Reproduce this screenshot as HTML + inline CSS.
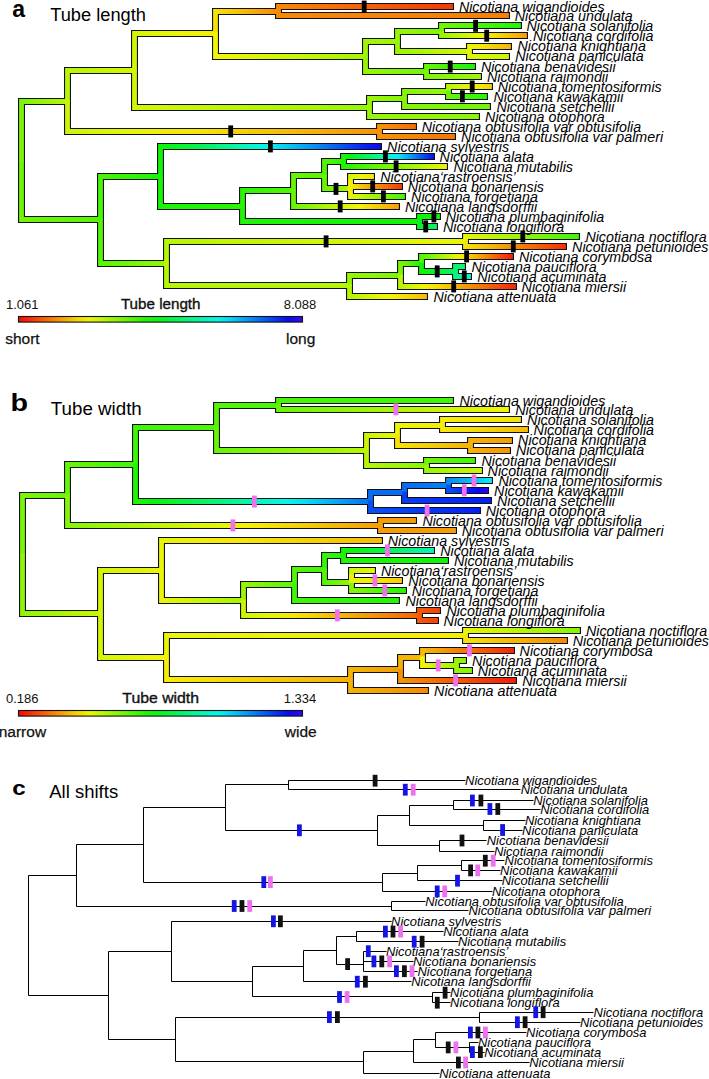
<!DOCTYPE html>
<html><head><meta charset="utf-8"><style>
html,body{margin:0;padding:0;background:#fff;}
svg{display:block;}
</style></head><body>
<svg width="709" height="1079" viewBox="0 0 709 1079">
<rect width="709" height="1079" fill="#fff"/>
<defs><linearGradient id="g1" gradientUnits="userSpaceOnUse" x1="21.5" y1="0" x2="67.5" y2="0"><stop offset="0.000" stop-color="#7bf507"/><stop offset="0.500" stop-color="#99f507"/><stop offset="1.000" stop-color="#b7f507"/></linearGradient><linearGradient id="g2" gradientUnits="userSpaceOnUse" x1="21.5" y1="0" x2="100.5" y2="0"><stop offset="0.000" stop-color="#71f507"/><stop offset="0.500" stop-color="#62f507"/><stop offset="1.000" stop-color="#53f507"/></linearGradient><linearGradient id="g3" gradientUnits="userSpaceOnUse" x1="67.5" y1="0" x2="134.5" y2="0"><stop offset="0.000" stop-color="#b7f507"/><stop offset="1.000" stop-color="#d5f507"/></linearGradient><linearGradient id="g4" gradientUnits="userSpaceOnUse" x1="67.5" y1="0" x2="379.5" y2="0"><stop offset="0.000" stop-color="#cbf507"/><stop offset="0.200" stop-color="#e7f507"/><stop offset="0.400" stop-color="#f5e707"/><stop offset="0.600" stop-color="#f5cb07"/><stop offset="0.800" stop-color="#f5af07"/><stop offset="1.000" stop-color="#f59307"/></linearGradient><linearGradient id="g5" gradientUnits="userSpaceOnUse" x1="134.5" y1="0" x2="215.5" y2="0"><stop offset="0.000" stop-color="#d5f507"/><stop offset="0.500" stop-color="#e9f507"/><stop offset="1.000" stop-color="#f5ed07"/></linearGradient><linearGradient id="g6" gradientUnits="userSpaceOnUse" x1="134.5" y1="0" x2="369.5" y2="0"><stop offset="0.000" stop-color="#d5f507"/><stop offset="0.500" stop-color="#b7f507"/><stop offset="1.000" stop-color="#99f507"/></linearGradient><linearGradient id="g7" gradientUnits="userSpaceOnUse" x1="215.5" y1="0" x2="278.5" y2="0"><stop offset="0.000" stop-color="#f5e307"/><stop offset="0.333" stop-color="#f5c507"/><stop offset="0.667" stop-color="#f5a707"/><stop offset="1.000" stop-color="#f58907"/></linearGradient><linearGradient id="g8" gradientUnits="userSpaceOnUse" x1="215.5" y1="0" x2="365.5" y2="0"><stop offset="0.000" stop-color="#f3f507"/><stop offset="0.333" stop-color="#d8f507"/><stop offset="0.667" stop-color="#bef507"/><stop offset="1.000" stop-color="#a3f507"/></linearGradient><linearGradient id="g9" gradientUnits="userSpaceOnUse" x1="278.5" y1="0" x2="452.9" y2="0"><stop offset="0.000" stop-color="#f58907"/><stop offset="0.333" stop-color="#f56e07"/><stop offset="0.667" stop-color="#f55407"/><stop offset="1.000" stop-color="#f53907"/></linearGradient><linearGradient id="g10" gradientUnits="userSpaceOnUse" x1="278.5" y1="0" x2="508.9" y2="0"><stop offset="0.000" stop-color="#f58907"/><stop offset="1.000" stop-color="#f57f07"/></linearGradient><linearGradient id="g11" gradientUnits="userSpaceOnUse" x1="365.5" y1="0" x2="397.5" y2="0"><stop offset="0.000" stop-color="#a3f507"/><stop offset="1.000" stop-color="#99f507"/></linearGradient><linearGradient id="g12" gradientUnits="userSpaceOnUse" x1="365.5" y1="0" x2="426.5" y2="0"><stop offset="0.000" stop-color="#99f507"/><stop offset="0.500" stop-color="#85f507"/><stop offset="1.000" stop-color="#71f507"/></linearGradient><linearGradient id="g13" gradientUnits="userSpaceOnUse" x1="397.5" y1="0" x2="441.5" y2="0"><stop offset="0.000" stop-color="#99f507"/><stop offset="1.000" stop-color="#7bf507"/></linearGradient><linearGradient id="g14" gradientUnits="userSpaceOnUse" x1="397.5" y1="0" x2="469.5" y2="0"><stop offset="0.000" stop-color="#99f507"/><stop offset="0.500" stop-color="#b7f507"/><stop offset="1.000" stop-color="#d5f507"/></linearGradient><linearGradient id="g15" gradientUnits="userSpaceOnUse" x1="441.5" y1="0" x2="520.9" y2="0"><stop offset="0.000" stop-color="#71f507"/><stop offset="0.333" stop-color="#57f507"/><stop offset="0.667" stop-color="#3cf507"/><stop offset="1.000" stop-color="#21f507"/></linearGradient><linearGradient id="g16" gradientUnits="userSpaceOnUse" x1="441.5" y1="0" x2="526.9" y2="0"><stop offset="0.000" stop-color="#99f507"/><stop offset="0.143" stop-color="#b3f507"/><stop offset="0.286" stop-color="#ccf507"/><stop offset="0.429" stop-color="#e6f507"/><stop offset="0.571" stop-color="#f5ea07"/><stop offset="0.714" stop-color="#f5d007"/><stop offset="0.857" stop-color="#f5b707"/><stop offset="1.000" stop-color="#f59d07"/></linearGradient><linearGradient id="g17" gradientUnits="userSpaceOnUse" x1="469.5" y1="0" x2="510.9" y2="0"><stop offset="0.000" stop-color="#e9f507"/><stop offset="0.333" stop-color="#f5e607"/><stop offset="0.667" stop-color="#f5cb07"/><stop offset="1.000" stop-color="#f5b107"/></linearGradient><linearGradient id="g18" gradientUnits="userSpaceOnUse" x1="469.5" y1="0" x2="508.9" y2="0"><stop offset="0.000" stop-color="#dff507"/><stop offset="1.000" stop-color="#cbf507"/></linearGradient><linearGradient id="g19" gradientUnits="userSpaceOnUse" x1="426.5" y1="0" x2="474.9" y2="0"><stop offset="0.000" stop-color="#67f507"/><stop offset="0.333" stop-color="#4df507"/><stop offset="0.667" stop-color="#32f507"/><stop offset="1.000" stop-color="#17f507"/></linearGradient><linearGradient id="g20" gradientUnits="userSpaceOnUse" x1="426.5" y1="0" x2="480.9" y2="0"><stop offset="0.000" stop-color="#7bf507"/><stop offset="0.500" stop-color="#8ff507"/><stop offset="1.000" stop-color="#a3f507"/></linearGradient><linearGradient id="g21" gradientUnits="userSpaceOnUse" x1="369.5" y1="0" x2="404.5" y2="0"><stop offset="0.000" stop-color="#99f507"/><stop offset="1.000" stop-color="#85f507"/></linearGradient><linearGradient id="g22" gradientUnits="userSpaceOnUse" x1="369.5" y1="0" x2="478.9" y2="0"><stop offset="0.000" stop-color="#99f507"/><stop offset="1.000" stop-color="#8ff507"/></linearGradient><linearGradient id="g23" gradientUnits="userSpaceOnUse" x1="404.5" y1="0" x2="448.5" y2="0"><stop offset="0.000" stop-color="#85f507"/><stop offset="1.000" stop-color="#99f507"/></linearGradient><linearGradient id="g24" gradientUnits="userSpaceOnUse" x1="404.5" y1="0" x2="489.9" y2="0"><stop offset="0.000" stop-color="#85f507"/><stop offset="1.000" stop-color="#71f507"/></linearGradient><linearGradient id="g25" gradientUnits="userSpaceOnUse" x1="448.5" y1="0" x2="491.9" y2="0"><stop offset="0.000" stop-color="#b7f507"/><stop offset="0.250" stop-color="#d0f507"/><stop offset="0.500" stop-color="#e9f507"/><stop offset="0.750" stop-color="#f5e807"/><stop offset="1.000" stop-color="#f5cf07"/></linearGradient><linearGradient id="g26" gradientUnits="userSpaceOnUse" x1="448.5" y1="0" x2="486.9" y2="0"><stop offset="0.000" stop-color="#67f507"/><stop offset="0.333" stop-color="#50f507"/><stop offset="0.667" stop-color="#39f507"/><stop offset="1.000" stop-color="#21f507"/></linearGradient><linearGradient id="g27" gradientUnits="userSpaceOnUse" x1="379.5" y1="0" x2="415.9" y2="0"><stop offset="0.000" stop-color="#f59307"/><stop offset="0.500" stop-color="#f57f07"/><stop offset="1.000" stop-color="#f56b07"/></linearGradient><linearGradient id="g28" gradientUnits="userSpaceOnUse" x1="379.5" y1="0" x2="454.9" y2="0"><stop offset="0.000" stop-color="#f59307"/><stop offset="0.500" stop-color="#f58407"/><stop offset="1.000" stop-color="#f57507"/></linearGradient><linearGradient id="g29" gradientUnits="userSpaceOnUse" x1="100.5" y1="0" x2="160.5" y2="0"><stop offset="0.000" stop-color="#49f507"/><stop offset="0.500" stop-color="#30f507"/><stop offset="1.000" stop-color="#17f507"/></linearGradient><linearGradient id="g30" gradientUnits="userSpaceOnUse" x1="100.5" y1="0" x2="166.5" y2="0"><stop offset="0.000" stop-color="#53f507"/><stop offset="0.333" stop-color="#6bf507"/><stop offset="0.667" stop-color="#82f507"/><stop offset="1.000" stop-color="#99f507"/></linearGradient><linearGradient id="g31" gradientUnits="userSpaceOnUse" x1="160.5" y1="0" x2="380.9" y2="0"><stop offset="0.000" stop-color="#0ef507"/><stop offset="0.060" stop-color="#07f51c"/><stop offset="0.120" stop-color="#07f536"/><stop offset="0.180" stop-color="#07f551"/><stop offset="0.233" stop-color="#07f56d"/><stop offset="0.287" stop-color="#07f589"/><stop offset="0.340" stop-color="#07f5a6"/><stop offset="0.393" stop-color="#07f5c2"/><stop offset="0.447" stop-color="#07f5de"/><stop offset="0.500" stop-color="#07eff5"/><stop offset="0.562" stop-color="#07d1f5"/><stop offset="0.625" stop-color="#07b3f5"/><stop offset="0.688" stop-color="#0795f5"/><stop offset="0.750" stop-color="#0777f5"/><stop offset="0.812" stop-color="#075af5"/><stop offset="0.875" stop-color="#073cf5"/><stop offset="0.938" stop-color="#071ef5"/><stop offset="1.000" stop-color="#0f07f5"/></linearGradient><linearGradient id="g32" gradientUnits="userSpaceOnUse" x1="160.5" y1="0" x2="242.5" y2="0"><stop offset="0.000" stop-color="#17f507"/><stop offset="1.000" stop-color="#2bf507"/></linearGradient><linearGradient id="g33" gradientUnits="userSpaceOnUse" x1="242.5" y1="0" x2="293.5" y2="0"><stop offset="0.000" stop-color="#2bf507"/><stop offset="0.500" stop-color="#3ff507"/><stop offset="1.000" stop-color="#53f507"/></linearGradient><linearGradient id="g34" gradientUnits="userSpaceOnUse" x1="242.5" y1="0" x2="419.5" y2="0"><stop offset="0.000" stop-color="#21f507"/><stop offset="1.000" stop-color="#0ef507"/></linearGradient><linearGradient id="g35" gradientUnits="userSpaceOnUse" x1="293.5" y1="0" x2="324.5" y2="0"><stop offset="0.000" stop-color="#67f507"/><stop offset="1.000" stop-color="#53f507"/></linearGradient><linearGradient id="g36" gradientUnits="userSpaceOnUse" x1="293.5" y1="0" x2="398.9" y2="0"><stop offset="0.000" stop-color="#67f507"/><stop offset="0.125" stop-color="#84f507"/><stop offset="0.250" stop-color="#a1f507"/><stop offset="0.375" stop-color="#bdf507"/><stop offset="0.500" stop-color="#daf507"/><stop offset="0.625" stop-color="#f5f307"/><stop offset="0.750" stop-color="#f5d607"/><stop offset="0.875" stop-color="#f5ba07"/><stop offset="1.000" stop-color="#f59d07"/></linearGradient><linearGradient id="g37" gradientUnits="userSpaceOnUse" x1="324.5" y1="0" x2="343.5" y2="0"><stop offset="0.000" stop-color="#53f507"/><stop offset="0.500" stop-color="#3ff507"/><stop offset="1.000" stop-color="#2bf507"/></linearGradient><linearGradient id="g38" gradientUnits="userSpaceOnUse" x1="324.5" y1="0" x2="350.5" y2="0"><stop offset="0.000" stop-color="#67f507"/><stop offset="0.333" stop-color="#82f507"/><stop offset="0.667" stop-color="#9cf507"/><stop offset="1.000" stop-color="#b7f507"/></linearGradient><linearGradient id="g39" gradientUnits="userSpaceOnUse" x1="343.5" y1="0" x2="433.9" y2="0"><stop offset="0.000" stop-color="#21f507"/><stop offset="0.067" stop-color="#07f50b"/><stop offset="0.133" stop-color="#07f529"/><stop offset="0.200" stop-color="#07f547"/><stop offset="0.267" stop-color="#07f565"/><stop offset="0.333" stop-color="#07f583"/><stop offset="0.400" stop-color="#07f5a1"/><stop offset="0.467" stop-color="#07f5bf"/><stop offset="0.533" stop-color="#07f5dd"/><stop offset="0.600" stop-color="#07eff5"/><stop offset="0.650" stop-color="#07d2f5"/><stop offset="0.700" stop-color="#07b6f5"/><stop offset="0.750" stop-color="#0799f5"/><stop offset="0.800" stop-color="#077cf5"/><stop offset="0.850" stop-color="#0760f5"/><stop offset="0.900" stop-color="#0743f5"/><stop offset="0.950" stop-color="#0726f5"/><stop offset="1.000" stop-color="#070af5"/></linearGradient><linearGradient id="g40" gradientUnits="userSpaceOnUse" x1="343.5" y1="0" x2="446.9" y2="0"><stop offset="0.000" stop-color="#21f507"/><stop offset="0.143" stop-color="#3ef507"/><stop offset="0.286" stop-color="#5af507"/><stop offset="0.429" stop-color="#77f507"/><stop offset="0.571" stop-color="#93f507"/><stop offset="0.714" stop-color="#b0f507"/><stop offset="0.857" stop-color="#ccf507"/><stop offset="1.000" stop-color="#e9f507"/></linearGradient><linearGradient id="g41" gradientUnits="userSpaceOnUse" x1="350.5" y1="0" x2="350.5" y2="0"><stop offset="0.000" stop-color="#cbf507"/><stop offset="1.000" stop-color="#cbf507"/></linearGradient><linearGradient id="g42" gradientUnits="userSpaceOnUse" x1="350.5" y1="0" x2="404.9" y2="0"><stop offset="0.000" stop-color="#e9f507"/><stop offset="0.167" stop-color="#cdf507"/><stop offset="0.333" stop-color="#b0f507"/><stop offset="0.500" stop-color="#94f507"/><stop offset="0.667" stop-color="#78f507"/><stop offset="0.833" stop-color="#5cf507"/><stop offset="1.000" stop-color="#3ff507"/></linearGradient><linearGradient id="g43" gradientUnits="userSpaceOnUse" x1="350.5" y1="0" x2="373.9" y2="0"><stop offset="0.000" stop-color="#d5f507"/><stop offset="0.500" stop-color="#eef507"/><stop offset="1.000" stop-color="#f5e307"/></linearGradient><linearGradient id="g44" gradientUnits="userSpaceOnUse" x1="350.5" y1="0" x2="401.9" y2="0"><stop offset="0.000" stop-color="#f5ed07"/><stop offset="0.167" stop-color="#f5cf07"/><stop offset="0.333" stop-color="#f5b107"/><stop offset="0.500" stop-color="#f59307"/><stop offset="0.667" stop-color="#f57507"/><stop offset="0.833" stop-color="#f55707"/><stop offset="1.000" stop-color="#f53907"/></linearGradient><linearGradient id="g45" gradientUnits="userSpaceOnUse" x1="419.5" y1="0" x2="439.9" y2="0"><stop offset="0.000" stop-color="#0ef507"/><stop offset="1.000" stop-color="#0ef507"/></linearGradient><linearGradient id="g46" gradientUnits="userSpaceOnUse" x1="419.5" y1="0" x2="436.9" y2="0"><stop offset="0.000" stop-color="#07f51f"/><stop offset="0.333" stop-color="#07f53a"/><stop offset="0.667" stop-color="#07f554"/><stop offset="1.000" stop-color="#07f56f"/></linearGradient><linearGradient id="g47" gradientUnits="userSpaceOnUse" x1="166.5" y1="0" x2="465.5" y2="0"><stop offset="0.000" stop-color="#b7f507"/><stop offset="0.500" stop-color="#d0f507"/><stop offset="1.000" stop-color="#e9f507"/></linearGradient><linearGradient id="g48" gradientUnits="userSpaceOnUse" x1="166.5" y1="0" x2="349.5" y2="0"><stop offset="0.000" stop-color="#b7f507"/><stop offset="1.000" stop-color="#b7f507"/></linearGradient><linearGradient id="g49" gradientUnits="userSpaceOnUse" x1="465.5" y1="0" x2="578.9" y2="0"><stop offset="0.000" stop-color="#e9f507"/><stop offset="0.167" stop-color="#cdf507"/><stop offset="0.333" stop-color="#b0f507"/><stop offset="0.500" stop-color="#94f507"/><stop offset="0.667" stop-color="#78f507"/><stop offset="0.833" stop-color="#5cf507"/><stop offset="1.000" stop-color="#3ff507"/></linearGradient><linearGradient id="g50" gradientUnits="userSpaceOnUse" x1="465.5" y1="0" x2="565.9" y2="0"><stop offset="0.000" stop-color="#f5e307"/><stop offset="0.167" stop-color="#f5c507"/><stop offset="0.333" stop-color="#f5a707"/><stop offset="0.500" stop-color="#f58907"/><stop offset="0.667" stop-color="#f56b07"/><stop offset="0.833" stop-color="#f54d07"/><stop offset="1.000" stop-color="#f52f07"/></linearGradient><linearGradient id="g51" gradientUnits="userSpaceOnUse" x1="349.5" y1="0" x2="400.5" y2="0"><stop offset="0.000" stop-color="#99f507"/><stop offset="1.000" stop-color="#7bf507"/></linearGradient><linearGradient id="g52" gradientUnits="userSpaceOnUse" x1="349.5" y1="0" x2="426.9" y2="0"><stop offset="0.000" stop-color="#b7f507"/><stop offset="0.250" stop-color="#d5f507"/><stop offset="0.500" stop-color="#f3f507"/><stop offset="0.750" stop-color="#f5d907"/><stop offset="1.000" stop-color="#f5bb07"/></linearGradient><linearGradient id="g53" gradientUnits="userSpaceOnUse" x1="400.5" y1="0" x2="421.5" y2="0"><stop offset="0.000" stop-color="#7bf507"/><stop offset="0.250" stop-color="#65f507"/><stop offset="0.500" stop-color="#4ef507"/><stop offset="0.750" stop-color="#38f507"/><stop offset="1.000" stop-color="#21f507"/></linearGradient><linearGradient id="g54" gradientUnits="userSpaceOnUse" x1="400.5" y1="0" x2="515.9" y2="0"><stop offset="0.000" stop-color="#b7f507"/><stop offset="0.100" stop-color="#d2f507"/><stop offset="0.200" stop-color="#edf507"/><stop offset="0.300" stop-color="#f5e207"/><stop offset="0.400" stop-color="#f5c707"/><stop offset="0.500" stop-color="#f5ac07"/><stop offset="0.600" stop-color="#f59107"/><stop offset="0.700" stop-color="#f57607"/><stop offset="0.800" stop-color="#f55b07"/><stop offset="0.900" stop-color="#f54007"/><stop offset="1.000" stop-color="#f52507"/></linearGradient><linearGradient id="g55" gradientUnits="userSpaceOnUse" x1="421.5" y1="0" x2="512.9" y2="0"><stop offset="0.000" stop-color="#53f507"/><stop offset="0.077" stop-color="#70f507"/><stop offset="0.154" stop-color="#8ef507"/><stop offset="0.231" stop-color="#abf507"/><stop offset="0.308" stop-color="#c8f507"/><stop offset="0.385" stop-color="#e5f507"/><stop offset="0.462" stop-color="#f5e707"/><stop offset="0.538" stop-color="#f5ca07"/><stop offset="0.615" stop-color="#f5ad07"/><stop offset="0.692" stop-color="#f59007"/><stop offset="0.769" stop-color="#f57307"/><stop offset="0.846" stop-color="#f55607"/><stop offset="0.923" stop-color="#f53807"/><stop offset="1.000" stop-color="#f51b07"/></linearGradient><linearGradient id="g56" gradientUnits="userSpaceOnUse" x1="421.5" y1="0" x2="455.5" y2="0"><stop offset="0.000" stop-color="#0ef507"/><stop offset="0.250" stop-color="#07f51a"/><stop offset="0.500" stop-color="#07f533"/><stop offset="0.750" stop-color="#07f54c"/><stop offset="1.000" stop-color="#07f565"/></linearGradient><linearGradient id="g57" gradientUnits="userSpaceOnUse" x1="455.5" y1="0" x2="464.9" y2="0"><stop offset="0.000" stop-color="#07f565"/><stop offset="0.500" stop-color="#07f574"/><stop offset="1.000" stop-color="#07f583"/></linearGradient><linearGradient id="g58" gradientUnits="userSpaceOnUse" x1="455.5" y1="0" x2="470.9" y2="0"><stop offset="0.000" stop-color="#07f583"/><stop offset="0.333" stop-color="#07f59d"/><stop offset="0.667" stop-color="#07f5b8"/><stop offset="1.000" stop-color="#07f5d3"/></linearGradient></defs><g fill="none" stroke="#111" stroke-width="7.0" stroke-linejoin="miter" stroke-linecap="butt"><path d="M21.5 161.1V101.5H67.5"/><path d="M21.5 159.9V219.5H100.5"/><path d="M67.5 102.1V70.5H134.5"/><path d="M67.5 100.9V131.5H379.5"/><path d="M134.5 71.1V33.5H215.5"/><path d="M134.5 69.9V107.5H369.5"/><path d="M215.5 34.1V11.5H278.5"/><path d="M215.5 32.9V56.5H365.5"/><path d="M278.5 12.1V6.5H454.0"/><path d="M278.5 10.9V15.5H510.0"/><path d="M365.5 57.1V41.5H397.5"/><path d="M365.5 55.9V71.5H426.5"/><path d="M397.5 42.1V31.5H441.5"/><path d="M397.5 40.9V51.5H469.5"/><path d="M441.5 32.1V25.5H522.0"/><path d="M441.5 30.9V35.5H528.0"/><path d="M469.5 52.1V46.5H512.0"/><path d="M469.5 50.9V56.5H510.0"/><path d="M426.5 72.1V66.5H476.0"/><path d="M426.5 70.9V76.5H482.0"/><path d="M369.5 108.1V98.5H404.5"/><path d="M369.5 106.9V116.5H480.0"/><path d="M404.5 99.1V91.5H448.5"/><path d="M404.5 97.9V106.5H491.0"/><path d="M448.5 92.1V86.5H493.0"/><path d="M448.5 90.9V96.5H488.0"/><path d="M379.5 132.1V126.5H417.0"/><path d="M379.5 130.9V136.5H456.0"/><path d="M100.5 220.1V176.5H160.5"/><path d="M100.5 218.9V263.5H166.5"/><path d="M160.5 177.1V146.5H382.0"/><path d="M160.5 175.9V206.5H242.5"/><path d="M242.5 207.1V190.5H293.5"/><path d="M242.5 205.9V221.5H419.5"/><path d="M293.5 191.1V175.5H324.5"/><path d="M293.5 189.9V206.5H400.0"/><path d="M324.5 176.1V161.5H343.5"/><path d="M324.5 174.9V188.5H350.5"/><path d="M343.5 162.1V156.5H435.0"/><path d="M343.5 160.9V166.5H448.0"/><path d="M350.5 189.1V181.5H350.5"/><path d="M350.5 187.9V196.5H406.0"/><path d="M350.5 182.1V176.5H375.0"/><path d="M350.5 180.9V186.5H403.0"/><path d="M419.5 222.1V216.5H441.0"/><path d="M419.5 220.9V226.5H438.0"/><path d="M166.5 264.1V241.5H465.5"/><path d="M166.5 262.9V285.5H349.5"/><path d="M465.5 242.1V236.5H580.0"/><path d="M465.5 240.9V246.5H567.0"/><path d="M349.5 286.1V275.5H400.5"/><path d="M349.5 284.9V296.5H428.0"/><path d="M400.5 276.1V263.5H421.5"/><path d="M400.5 274.9V286.5H517.0"/><path d="M421.5 264.1V256.5H514.0"/><path d="M421.5 262.9V271.5H455.5"/><path d="M455.5 272.1V266.5H466.0"/><path d="M455.5 270.9V276.5H472.0"/></g><g fill="none" stroke-width="4.8" stroke-linejoin="miter" stroke-linecap="butt"><path d="M21.5 161.4V101.5H67.5" stroke="url(#g1)"/><path d="M21.5 159.6V219.5H100.5" stroke="url(#g2)"/><path d="M67.5 102.4V70.5H134.5" stroke="url(#g3)"/><path d="M67.5 100.6V131.5H379.5" stroke="url(#g4)"/><path d="M134.5 71.4V33.5H215.5" stroke="url(#g5)"/><path d="M134.5 69.6V107.5H369.5" stroke="url(#g6)"/><path d="M215.5 34.4V11.5H278.5" stroke="url(#g7)"/><path d="M215.5 32.6V56.5H365.5" stroke="url(#g8)"/><path d="M278.5 12.4V6.5H452.9" stroke="url(#g9)"/><path d="M278.5 10.6V15.5H508.9" stroke="url(#g10)"/><path d="M365.5 57.4V41.5H397.5" stroke="url(#g11)"/><path d="M365.5 55.6V71.5H426.5" stroke="url(#g12)"/><path d="M397.5 42.4V31.5H441.5" stroke="url(#g13)"/><path d="M397.5 40.6V51.5H469.5" stroke="url(#g14)"/><path d="M441.5 32.4V25.5H520.9" stroke="url(#g15)"/><path d="M441.5 30.6V35.5H526.9" stroke="url(#g16)"/><path d="M469.5 52.4V46.5H510.9" stroke="url(#g17)"/><path d="M469.5 50.6V56.5H508.9" stroke="url(#g18)"/><path d="M426.5 72.4V66.5H474.9" stroke="url(#g19)"/><path d="M426.5 70.6V76.5H480.9" stroke="url(#g20)"/><path d="M369.5 108.4V98.5H404.5" stroke="url(#g21)"/><path d="M369.5 106.6V116.5H478.9" stroke="url(#g22)"/><path d="M404.5 99.4V91.5H448.5" stroke="url(#g23)"/><path d="M404.5 97.6V106.5H489.9" stroke="url(#g24)"/><path d="M448.5 92.4V86.5H491.9" stroke="url(#g25)"/><path d="M448.5 90.6V96.5H486.9" stroke="url(#g26)"/><path d="M379.5 132.4V126.5H415.9" stroke="url(#g27)"/><path d="M379.5 130.6V136.5H454.9" stroke="url(#g28)"/><path d="M100.5 220.4V176.5H160.5" stroke="url(#g29)"/><path d="M100.5 218.6V263.5H166.5" stroke="url(#g30)"/><path d="M160.5 177.4V146.5H380.9" stroke="url(#g31)"/><path d="M160.5 175.6V206.5H242.5" stroke="url(#g32)"/><path d="M242.5 207.4V190.5H293.5" stroke="url(#g33)"/><path d="M242.5 205.6V221.5H419.5" stroke="url(#g34)"/><path d="M293.5 191.4V175.5H324.5" stroke="url(#g35)"/><path d="M293.5 189.6V206.5H398.9" stroke="url(#g36)"/><path d="M324.5 176.4V161.5H343.5" stroke="url(#g37)"/><path d="M324.5 174.6V188.5H350.5" stroke="url(#g38)"/><path d="M343.5 162.4V156.5H433.9" stroke="url(#g39)"/><path d="M343.5 160.6V166.5H446.9" stroke="url(#g40)"/><path d="M350.5 189.4V181.5H350.5" stroke="url(#g41)"/><path d="M350.5 187.6V196.5H404.9" stroke="url(#g42)"/><path d="M350.5 182.4V176.5H373.9" stroke="url(#g43)"/><path d="M350.5 180.6V186.5H401.9" stroke="url(#g44)"/><path d="M419.5 222.4V216.5H439.9" stroke="url(#g45)"/><path d="M419.5 220.6V226.5H436.9" stroke="url(#g46)"/><path d="M166.5 264.4V241.5H465.5" stroke="url(#g47)"/><path d="M166.5 262.6V285.5H349.5" stroke="url(#g48)"/><path d="M465.5 242.4V236.5H578.9" stroke="url(#g49)"/><path d="M465.5 240.6V246.5H565.9" stroke="url(#g50)"/><path d="M349.5 286.4V275.5H400.5" stroke="url(#g51)"/><path d="M349.5 284.6V296.5H426.9" stroke="url(#g52)"/><path d="M400.5 276.4V263.5H421.5" stroke="url(#g53)"/><path d="M400.5 274.6V286.5H515.9" stroke="url(#g54)"/><path d="M421.5 264.4V256.5H512.9" stroke="url(#g55)"/><path d="M421.5 262.6V271.5H455.5" stroke="url(#g56)"/><path d="M455.5 272.4V266.5H464.9" stroke="url(#g57)"/><path d="M455.5 270.6V276.5H470.9" stroke="url(#g58)"/></g>
<g font-family="Liberation Sans, sans-serif" font-style="italic" font-size="14.25" fill="#000"><text x="458.9" y="11.9">Nicotiana wigandioides</text><text x="514.7" y="20.6">Nicotiana undulata</text><text x="526.5" y="31.1">Nicotiana solanifolia</text><text x="533.0" y="41.0">Nicotiana cordifolia</text><text x="517.5" y="51.4">Nicotiana knightiana</text><text x="515.3" y="61.3">Nicotiana paniculata</text><text x="480.9" y="71.9">Nicotiana benavidesii</text><text x="487.0" y="81.7">Nicotiana raimondii</text><text x="497.8" y="91.8">Nicotiana tomentosiformis</text><text x="493.5" y="101.6">Nicotiana kawakamii</text><text x="496.4" y="112.1">Nicotiana setchellii</text><text x="485.1" y="121.9">Nicotiana otophora</text><text x="421.8" y="131.8">Nicotiana obtusifolia var obtusifolia</text><text x="461.1" y="141.7">Nicotiana obtusifolia var palmeri</text><text x="387.1" y="151.7">Nicotiana sylvestris</text><text x="439.6" y="161.7">Nicotiana alata</text><text x="453.4" y="171.7">Nicotiana mutabilis</text><text x="380.3" y="181.7">Nicotiana‘rastroensis’</text><text x="407.7" y="191.7">Nicotiana bonariensis</text><text x="411.1" y="201.7">Nicotiana forgetiana</text><text x="404.9" y="211.7">Nicotiana langsdorffii</text><text x="445.8" y="221.7">Nicotiana plumbaginifolia</text><text x="443.0" y="231.7">Nicotiana longiflora</text><text x="585.4" y="241.7">Nicotiana noctiflora</text><text x="572.1" y="251.7">Nicotiana petunioides</text><text x="519.0" y="261.7">Nicotiana corymbosa</text><text x="471.5" y="271.7">Nicotiana pauciflora</text><text x="477.2" y="281.7">Nicotiana acuminata</text><text x="521.6" y="291.7">Nicotiana miersii</text><text x="433.5" y="301.7">Nicotiana attenuata</text></g>
<rect x="361.8" y="0.6" width="4.8" height="12.0" fill="#000"/><rect x="473.2" y="19.8" width="4.8" height="12.0" fill="#000"/><rect x="484.3" y="29.7" width="4.8" height="12.0" fill="#000"/><rect x="447.8" y="60.6" width="4.8" height="12.0" fill="#000"/><rect x="469.8" y="80.5" width="4.8" height="12.0" fill="#000"/><rect x="460.0" y="90.3" width="4.8" height="12.0" fill="#000"/><rect x="228.3" y="125.4" width="4.8" height="12.0" fill="#000"/><rect x="268.0" y="140.4" width="4.8" height="12.0" fill="#000"/><rect x="383.0" y="150.4" width="4.8" height="12.0" fill="#000"/><rect x="393.7" y="160.4" width="4.8" height="12.0" fill="#000"/><rect x="370.3" y="180.4" width="4.8" height="12.0" fill="#000"/><rect x="381.0" y="190.4" width="4.8" height="12.0" fill="#000"/><rect x="333.6" y="182.9" width="4.8" height="12.0" fill="#000"/><rect x="337.8" y="200.4" width="4.8" height="12.0" fill="#000"/><rect x="431.5" y="210.4" width="4.8" height="12.0" fill="#000"/><rect x="423.3" y="220.4" width="4.8" height="12.0" fill="#000"/><rect x="323.7" y="235.4" width="4.8" height="12.0" fill="#000"/><rect x="520.4" y="230.4" width="4.8" height="12.0" fill="#000"/><rect x="510.9" y="240.4" width="4.8" height="12.0" fill="#000"/><rect x="464.2" y="250.4" width="4.8" height="12.0" fill="#000"/><rect x="434.8" y="265.4" width="4.8" height="12.0" fill="#000"/><rect x="461.9" y="270.4" width="4.8" height="12.0" fill="#000"/><rect x="451.3" y="280.4" width="4.8" height="12.0" fill="#000"/>
<defs><linearGradient id="g59" gradientUnits="userSpaceOnUse" x1="22.5" y1="0" x2="67.5" y2="0"><stop offset="0.000" stop-color="#7bf507"/><stop offset="1.000" stop-color="#67f507"/></linearGradient><linearGradient id="g60" gradientUnits="userSpaceOnUse" x1="22.5" y1="0" x2="100.5" y2="0"><stop offset="0.000" stop-color="#8ff507"/><stop offset="0.500" stop-color="#adf507"/><stop offset="1.000" stop-color="#cbf507"/></linearGradient><linearGradient id="g61" gradientUnits="userSpaceOnUse" x1="67.5" y1="0" x2="135.5" y2="0"><stop offset="0.000" stop-color="#67f507"/><stop offset="0.500" stop-color="#53f507"/><stop offset="1.000" stop-color="#3ff507"/></linearGradient><linearGradient id="g62" gradientUnits="userSpaceOnUse" x1="67.5" y1="0" x2="380.5" y2="0"><stop offset="0.000" stop-color="#85f507"/><stop offset="0.143" stop-color="#a2f507"/><stop offset="0.286" stop-color="#bef507"/><stop offset="0.429" stop-color="#dbf507"/><stop offset="0.571" stop-color="#f5f207"/><stop offset="0.714" stop-color="#f5d607"/><stop offset="0.857" stop-color="#f5b907"/><stop offset="1.000" stop-color="#f59d07"/></linearGradient><linearGradient id="g63" gradientUnits="userSpaceOnUse" x1="135.5" y1="0" x2="216.5" y2="0"><stop offset="0.000" stop-color="#3ff507"/><stop offset="1.000" stop-color="#53f507"/></linearGradient><linearGradient id="g64" gradientUnits="userSpaceOnUse" x1="135.5" y1="0" x2="370.5" y2="0"><stop offset="0.000" stop-color="#21f507"/><stop offset="0.071" stop-color="#07f50a"/><stop offset="0.143" stop-color="#07f526"/><stop offset="0.214" stop-color="#07f543"/><stop offset="0.286" stop-color="#07f55f"/><stop offset="0.357" stop-color="#07f57c"/><stop offset="0.429" stop-color="#07f598"/><stop offset="0.500" stop-color="#07f5b5"/><stop offset="0.571" stop-color="#07f5d1"/><stop offset="0.643" stop-color="#07f5ee"/><stop offset="0.714" stop-color="#07dff5"/><stop offset="0.786" stop-color="#07c3f5"/><stop offset="0.857" stop-color="#07a6f5"/><stop offset="0.929" stop-color="#078af5"/><stop offset="1.000" stop-color="#076df5"/></linearGradient><linearGradient id="g65" gradientUnits="userSpaceOnUse" x1="216.5" y1="0" x2="278.5" y2="0"><stop offset="0.000" stop-color="#53f507"/><stop offset="1.000" stop-color="#49f507"/></linearGradient><linearGradient id="g66" gradientUnits="userSpaceOnUse" x1="216.5" y1="0" x2="366.5" y2="0"><stop offset="0.000" stop-color="#67f507"/><stop offset="0.333" stop-color="#82f507"/><stop offset="0.667" stop-color="#9cf507"/><stop offset="1.000" stop-color="#b7f507"/></linearGradient><linearGradient id="g67" gradientUnits="userSpaceOnUse" x1="278.5" y1="0" x2="452.9" y2="0"><stop offset="0.000" stop-color="#49f507"/><stop offset="1.000" stop-color="#3ff507"/></linearGradient><linearGradient id="g68" gradientUnits="userSpaceOnUse" x1="278.5" y1="0" x2="508.9" y2="0"><stop offset="0.000" stop-color="#67f507"/><stop offset="0.200" stop-color="#83f507"/><stop offset="0.400" stop-color="#9ff507"/><stop offset="0.600" stop-color="#bbf507"/><stop offset="0.800" stop-color="#d7f507"/><stop offset="1.000" stop-color="#f3f507"/></linearGradient><linearGradient id="g69" gradientUnits="userSpaceOnUse" x1="366.5" y1="0" x2="397.5" y2="0"><stop offset="0.000" stop-color="#cbf507"/><stop offset="0.500" stop-color="#daf507"/><stop offset="1.000" stop-color="#e9f507"/></linearGradient><linearGradient id="g70" gradientUnits="userSpaceOnUse" x1="366.5" y1="0" x2="426.5" y2="0"><stop offset="0.000" stop-color="#b7f507"/><stop offset="0.500" stop-color="#9ef507"/><stop offset="1.000" stop-color="#85f507"/></linearGradient><linearGradient id="g71" gradientUnits="userSpaceOnUse" x1="397.5" y1="0" x2="442.5" y2="0"><stop offset="0.000" stop-color="#e9f507"/><stop offset="1.000" stop-color="#f5ed07"/></linearGradient><linearGradient id="g72" gradientUnits="userSpaceOnUse" x1="397.5" y1="0" x2="470.5" y2="0"><stop offset="0.000" stop-color="#f5e307"/><stop offset="0.500" stop-color="#f5ca07"/><stop offset="1.000" stop-color="#f5b107"/></linearGradient><linearGradient id="g73" gradientUnits="userSpaceOnUse" x1="442.5" y1="0" x2="520.9" y2="0"><stop offset="0.000" stop-color="#f5ed07"/><stop offset="1.000" stop-color="#f5e307"/></linearGradient><linearGradient id="g74" gradientUnits="userSpaceOnUse" x1="442.5" y1="0" x2="527.9" y2="0"><stop offset="0.000" stop-color="#f5ed07"/><stop offset="0.500" stop-color="#f5d407"/><stop offset="1.000" stop-color="#f5bb07"/></linearGradient><linearGradient id="g75" gradientUnits="userSpaceOnUse" x1="470.5" y1="0" x2="511.9" y2="0"><stop offset="0.000" stop-color="#f5b107"/><stop offset="1.000" stop-color="#f59d07"/></linearGradient><linearGradient id="g76" gradientUnits="userSpaceOnUse" x1="470.5" y1="0" x2="509.9" y2="0"><stop offset="0.000" stop-color="#f5b107"/><stop offset="1.000" stop-color="#f59307"/></linearGradient><linearGradient id="g77" gradientUnits="userSpaceOnUse" x1="426.5" y1="0" x2="474.9" y2="0"><stop offset="0.000" stop-color="#71f507"/><stop offset="0.500" stop-color="#58f507"/><stop offset="1.000" stop-color="#3ff507"/></linearGradient><linearGradient id="g78" gradientUnits="userSpaceOnUse" x1="426.5" y1="0" x2="481.9" y2="0"><stop offset="0.000" stop-color="#99f507"/><stop offset="0.500" stop-color="#b2f507"/><stop offset="1.000" stop-color="#cbf507"/></linearGradient><linearGradient id="g79" gradientUnits="userSpaceOnUse" x1="370.5" y1="0" x2="404.5" y2="0"><stop offset="0.000" stop-color="#076df5"/><stop offset="1.000" stop-color="#076df5"/></linearGradient><linearGradient id="g80" gradientUnits="userSpaceOnUse" x1="370.5" y1="0" x2="479.9" y2="0"><stop offset="0.000" stop-color="#0750f5"/><stop offset="0.500" stop-color="#0737f5"/><stop offset="1.000" stop-color="#071ef5"/></linearGradient><linearGradient id="g81" gradientUnits="userSpaceOnUse" x1="404.5" y1="0" x2="448.5" y2="0"><stop offset="0.000" stop-color="#076df5"/><stop offset="1.000" stop-color="#0781f5"/></linearGradient><linearGradient id="g82" gradientUnits="userSpaceOnUse" x1="404.5" y1="0" x2="490.9" y2="0"><stop offset="0.000" stop-color="#073cf5"/><stop offset="0.500" stop-color="#072df5"/><stop offset="1.000" stop-color="#071ef5"/></linearGradient><linearGradient id="g83" gradientUnits="userSpaceOnUse" x1="448.5" y1="0" x2="491.9" y2="0"><stop offset="0.000" stop-color="#078bf5"/><stop offset="0.250" stop-color="#07a4f5"/><stop offset="0.500" stop-color="#07bdf5"/><stop offset="0.750" stop-color="#07d6f5"/><stop offset="1.000" stop-color="#07eff5"/></linearGradient><linearGradient id="g84" gradientUnits="userSpaceOnUse" x1="448.5" y1="0" x2="487.9" y2="0"><stop offset="0.000" stop-color="#0750f5"/><stop offset="0.250" stop-color="#0737f5"/><stop offset="0.500" stop-color="#071ef5"/><stop offset="0.750" stop-color="#0a07f5"/><stop offset="1.000" stop-color="#2307f5"/></linearGradient><linearGradient id="g85" gradientUnits="userSpaceOnUse" x1="380.5" y1="0" x2="415.9" y2="0"><stop offset="0.000" stop-color="#f59d07"/><stop offset="1.000" stop-color="#f59d07"/></linearGradient><linearGradient id="g86" gradientUnits="userSpaceOnUse" x1="380.5" y1="0" x2="455.9" y2="0"><stop offset="0.000" stop-color="#f59d07"/><stop offset="1.000" stop-color="#f59d07"/></linearGradient><linearGradient id="g87" gradientUnits="userSpaceOnUse" x1="100.5" y1="0" x2="161.5" y2="0"><stop offset="0.000" stop-color="#d5f507"/><stop offset="1.000" stop-color="#e9f507"/></linearGradient><linearGradient id="g88" gradientUnits="userSpaceOnUse" x1="100.5" y1="0" x2="166.5" y2="0"><stop offset="0.000" stop-color="#d5f507"/><stop offset="0.500" stop-color="#e4f507"/><stop offset="1.000" stop-color="#f3f507"/></linearGradient><linearGradient id="g89" gradientUnits="userSpaceOnUse" x1="161.5" y1="0" x2="381.9" y2="0"><stop offset="0.000" stop-color="#e9f507"/><stop offset="0.333" stop-color="#f5e907"/><stop offset="0.667" stop-color="#f5d207"/><stop offset="1.000" stop-color="#f5bb07"/></linearGradient><linearGradient id="g90" gradientUnits="userSpaceOnUse" x1="161.5" y1="0" x2="243.5" y2="0"><stop offset="0.000" stop-color="#e9f507"/><stop offset="0.333" stop-color="#d2f507"/><stop offset="0.667" stop-color="#baf507"/><stop offset="1.000" stop-color="#a3f507"/></linearGradient><linearGradient id="g91" gradientUnits="userSpaceOnUse" x1="243.5" y1="0" x2="294.5" y2="0"><stop offset="0.000" stop-color="#99f507"/><stop offset="0.333" stop-color="#82f507"/><stop offset="0.667" stop-color="#6bf507"/><stop offset="1.000" stop-color="#53f507"/></linearGradient><linearGradient id="g92" gradientUnits="userSpaceOnUse" x1="243.5" y1="0" x2="419.5" y2="0"><stop offset="0.000" stop-color="#cbf507"/><stop offset="0.143" stop-color="#e6f507"/><stop offset="0.286" stop-color="#f5e807"/><stop offset="0.429" stop-color="#f5cd07"/><stop offset="0.571" stop-color="#f5b207"/><stop offset="0.714" stop-color="#f59707"/><stop offset="0.857" stop-color="#f57c07"/><stop offset="1.000" stop-color="#f56107"/></linearGradient><linearGradient id="g93" gradientUnits="userSpaceOnUse" x1="294.5" y1="0" x2="324.5" y2="0"><stop offset="0.000" stop-color="#53f507"/><stop offset="1.000" stop-color="#3ff507"/></linearGradient><linearGradient id="g94" gradientUnits="userSpaceOnUse" x1="294.5" y1="0" x2="398.9" y2="0"><stop offset="0.000" stop-color="#3ff507"/><stop offset="0.500" stop-color="#30f507"/><stop offset="1.000" stop-color="#21f507"/></linearGradient><linearGradient id="g95" gradientUnits="userSpaceOnUse" x1="324.5" y1="0" x2="343.5" y2="0"><stop offset="0.000" stop-color="#35f507"/><stop offset="1.000" stop-color="#21f507"/></linearGradient><linearGradient id="g96" gradientUnits="userSpaceOnUse" x1="324.5" y1="0" x2="351.5" y2="0"><stop offset="0.000" stop-color="#53f507"/><stop offset="0.333" stop-color="#6bf507"/><stop offset="0.667" stop-color="#82f507"/><stop offset="1.000" stop-color="#99f507"/></linearGradient><linearGradient id="g97" gradientUnits="userSpaceOnUse" x1="343.5" y1="0" x2="433.9" y2="0"><stop offset="0.000" stop-color="#17f507"/><stop offset="0.143" stop-color="#07f512"/><stop offset="0.286" stop-color="#07f52d"/><stop offset="0.429" stop-color="#07f548"/><stop offset="0.571" stop-color="#07f563"/><stop offset="0.714" stop-color="#07f57f"/><stop offset="0.857" stop-color="#07f59a"/><stop offset="1.000" stop-color="#07f5b5"/></linearGradient><linearGradient id="g98" gradientUnits="userSpaceOnUse" x1="343.5" y1="0" x2="447.9" y2="0"><stop offset="0.000" stop-color="#21f507"/><stop offset="1.000" stop-color="#0ef507"/></linearGradient><linearGradient id="g99" gradientUnits="userSpaceOnUse" x1="351.5" y1="0" x2="351.5" y2="0"><stop offset="0.000" stop-color="#b7f507"/><stop offset="1.000" stop-color="#b7f507"/></linearGradient><linearGradient id="g100" gradientUnits="userSpaceOnUse" x1="351.5" y1="0" x2="405.9" y2="0"><stop offset="0.000" stop-color="#85f507"/><stop offset="0.250" stop-color="#6cf507"/><stop offset="0.500" stop-color="#53f507"/><stop offset="0.750" stop-color="#3af507"/><stop offset="1.000" stop-color="#21f507"/></linearGradient><linearGradient id="g101" gradientUnits="userSpaceOnUse" x1="351.5" y1="0" x2="374.9" y2="0"><stop offset="0.000" stop-color="#cbf507"/><stop offset="0.500" stop-color="#daf507"/><stop offset="1.000" stop-color="#e9f507"/></linearGradient><linearGradient id="g102" gradientUnits="userSpaceOnUse" x1="351.5" y1="0" x2="401.9" y2="0"><stop offset="0.000" stop-color="#e9f507"/><stop offset="0.500" stop-color="#f5e807"/><stop offset="1.000" stop-color="#f5cf07"/></linearGradient><linearGradient id="g103" gradientUnits="userSpaceOnUse" x1="419.5" y1="0" x2="439.9" y2="0"><stop offset="0.000" stop-color="#f55707"/><stop offset="1.000" stop-color="#f54307"/></linearGradient><linearGradient id="g104" gradientUnits="userSpaceOnUse" x1="419.5" y1="0" x2="437.9" y2="0"><stop offset="0.000" stop-color="#f55707"/><stop offset="1.000" stop-color="#f54307"/></linearGradient><linearGradient id="g105" gradientUnits="userSpaceOnUse" x1="166.5" y1="0" x2="465.5" y2="0"><stop offset="0.000" stop-color="#e9f507"/><stop offset="1.000" stop-color="#f5ed07"/></linearGradient><linearGradient id="g106" gradientUnits="userSpaceOnUse" x1="166.5" y1="0" x2="350.5" y2="0"><stop offset="0.000" stop-color="#f5ed07"/><stop offset="0.500" stop-color="#f5cf07"/><stop offset="1.000" stop-color="#f5b107"/></linearGradient><linearGradient id="g107" gradientUnits="userSpaceOnUse" x1="465.5" y1="0" x2="579.9" y2="0"><stop offset="0.000" stop-color="#e9f507"/><stop offset="0.250" stop-color="#d0f507"/><stop offset="0.500" stop-color="#b7f507"/><stop offset="0.750" stop-color="#9ef507"/><stop offset="1.000" stop-color="#85f507"/></linearGradient><linearGradient id="g108" gradientUnits="userSpaceOnUse" x1="465.5" y1="0" x2="566.9" y2="0"><stop offset="0.000" stop-color="#f5e307"/><stop offset="0.333" stop-color="#f5c507"/><stop offset="0.667" stop-color="#f5a707"/><stop offset="1.000" stop-color="#f58907"/></linearGradient><linearGradient id="g109" gradientUnits="userSpaceOnUse" x1="350.5" y1="0" x2="400.5" y2="0"><stop offset="0.000" stop-color="#f5b107"/><stop offset="1.000" stop-color="#f59d07"/></linearGradient><linearGradient id="g110" gradientUnits="userSpaceOnUse" x1="350.5" y1="0" x2="427.9" y2="0"><stop offset="0.000" stop-color="#f5b107"/><stop offset="0.500" stop-color="#f59d07"/><stop offset="1.000" stop-color="#f58907"/></linearGradient><linearGradient id="g111" gradientUnits="userSpaceOnUse" x1="400.5" y1="0" x2="422.5" y2="0"><stop offset="0.000" stop-color="#f5b107"/><stop offset="1.000" stop-color="#f5bb07"/></linearGradient><linearGradient id="g112" gradientUnits="userSpaceOnUse" x1="400.5" y1="0" x2="515.9" y2="0"><stop offset="0.000" stop-color="#f59307"/><stop offset="0.200" stop-color="#f57b07"/><stop offset="0.400" stop-color="#f56307"/><stop offset="0.600" stop-color="#f54b07"/><stop offset="0.800" stop-color="#f53307"/><stop offset="1.000" stop-color="#f51b07"/></linearGradient><linearGradient id="g113" gradientUnits="userSpaceOnUse" x1="422.5" y1="0" x2="513.9" y2="0"><stop offset="0.000" stop-color="#f5bb07"/><stop offset="0.200" stop-color="#f59d07"/><stop offset="0.400" stop-color="#f57f07"/><stop offset="0.600" stop-color="#f56107"/><stop offset="0.800" stop-color="#f54307"/><stop offset="1.000" stop-color="#f52507"/></linearGradient><linearGradient id="g114" gradientUnits="userSpaceOnUse" x1="422.5" y1="0" x2="456.5" y2="0"><stop offset="0.000" stop-color="#f3f507"/><stop offset="0.250" stop-color="#dcf507"/><stop offset="0.500" stop-color="#c6f507"/><stop offset="0.750" stop-color="#b0f507"/><stop offset="1.000" stop-color="#99f507"/></linearGradient><linearGradient id="g115" gradientUnits="userSpaceOnUse" x1="456.5" y1="0" x2="465.9" y2="0"><stop offset="0.000" stop-color="#99f507"/><stop offset="1.000" stop-color="#85f507"/></linearGradient><linearGradient id="g116" gradientUnits="userSpaceOnUse" x1="456.5" y1="0" x2="471.9" y2="0"><stop offset="0.000" stop-color="#99f507"/><stop offset="1.000" stop-color="#85f507"/></linearGradient></defs><g fill="none" stroke="#111" stroke-width="7.0" stroke-linejoin="miter" stroke-linecap="butt"><path d="M22.5 555.1V495.5H67.5"/><path d="M22.5 553.9V613.5H100.5"/><path d="M67.5 496.1V464.5H135.5"/><path d="M67.5 494.9V525.5H380.5"/><path d="M135.5 465.1V427.5H216.5"/><path d="M135.5 463.9V501.5H370.5"/><path d="M216.5 428.1V405.5H278.5"/><path d="M216.5 426.9V450.5H366.5"/><path d="M278.5 406.1V400.5H454.0"/><path d="M278.5 404.9V409.5H510.0"/><path d="M366.5 451.1V435.5H397.5"/><path d="M366.5 449.9V465.5H426.5"/><path d="M397.5 436.1V425.5H442.5"/><path d="M397.5 434.9V445.5H470.5"/><path d="M442.5 426.1V419.5H522.0"/><path d="M442.5 424.9V429.5H529.0"/><path d="M470.5 446.1V440.5H513.0"/><path d="M470.5 444.9V450.5H511.0"/><path d="M426.5 466.1V460.5H476.0"/><path d="M426.5 464.9V470.5H483.0"/><path d="M370.5 502.1V492.5H404.5"/><path d="M370.5 500.9V510.5H481.0"/><path d="M404.5 493.1V485.5H448.5"/><path d="M404.5 491.9V500.5H492.0"/><path d="M448.5 486.1V480.5H493.0"/><path d="M448.5 484.9V490.5H489.0"/><path d="M380.5 526.1V520.5H417.0"/><path d="M380.5 524.9V530.5H457.0"/><path d="M100.5 614.1V570.5H161.5"/><path d="M100.5 612.9V657.5H166.5"/><path d="M161.5 571.1V540.5H383.0"/><path d="M161.5 569.9V600.5H243.5"/><path d="M243.5 601.1V584.5H294.5"/><path d="M243.5 599.9V615.5H419.5"/><path d="M294.5 585.1V569.5H324.5"/><path d="M294.5 583.9V600.5H400.0"/><path d="M324.5 570.1V555.5H343.5"/><path d="M324.5 568.9V582.5H351.5"/><path d="M343.5 556.1V550.5H435.0"/><path d="M343.5 554.9V560.5H449.0"/><path d="M351.5 583.1V575.5H351.5"/><path d="M351.5 581.9V590.5H407.0"/><path d="M351.5 576.1V570.5H376.0"/><path d="M351.5 574.9V580.5H403.0"/><path d="M419.5 616.1V610.5H441.0"/><path d="M419.5 614.9V620.5H439.0"/><path d="M166.5 658.1V635.5H465.5"/><path d="M166.5 656.9V679.5H350.5"/><path d="M465.5 636.1V630.5H581.0"/><path d="M465.5 634.9V640.5H568.0"/><path d="M350.5 680.1V669.5H400.5"/><path d="M350.5 678.9V690.5H429.0"/><path d="M400.5 670.1V657.5H422.5"/><path d="M400.5 668.9V680.5H517.0"/><path d="M422.5 658.1V650.5H515.0"/><path d="M422.5 656.9V665.5H456.5"/><path d="M456.5 666.1V660.5H467.0"/><path d="M456.5 664.9V670.5H473.0"/></g><g fill="none" stroke-width="4.8" stroke-linejoin="miter" stroke-linecap="butt"><path d="M22.5 555.4V495.5H67.5" stroke="url(#g59)"/><path d="M22.5 553.6V613.5H100.5" stroke="url(#g60)"/><path d="M67.5 496.4V464.5H135.5" stroke="url(#g61)"/><path d="M67.5 494.6V525.5H380.5" stroke="url(#g62)"/><path d="M135.5 465.4V427.5H216.5" stroke="url(#g63)"/><path d="M135.5 463.6V501.5H370.5" stroke="url(#g64)"/><path d="M216.5 428.4V405.5H278.5" stroke="url(#g65)"/><path d="M216.5 426.6V450.5H366.5" stroke="url(#g66)"/><path d="M278.5 406.4V400.5H452.9" stroke="url(#g67)"/><path d="M278.5 404.6V409.5H508.9" stroke="url(#g68)"/><path d="M366.5 451.4V435.5H397.5" stroke="url(#g69)"/><path d="M366.5 449.6V465.5H426.5" stroke="url(#g70)"/><path d="M397.5 436.4V425.5H442.5" stroke="url(#g71)"/><path d="M397.5 434.6V445.5H470.5" stroke="url(#g72)"/><path d="M442.5 426.4V419.5H520.9" stroke="url(#g73)"/><path d="M442.5 424.6V429.5H527.9" stroke="url(#g74)"/><path d="M470.5 446.4V440.5H511.9" stroke="url(#g75)"/><path d="M470.5 444.6V450.5H509.9" stroke="url(#g76)"/><path d="M426.5 466.4V460.5H474.9" stroke="url(#g77)"/><path d="M426.5 464.6V470.5H481.9" stroke="url(#g78)"/><path d="M370.5 502.4V492.5H404.5" stroke="url(#g79)"/><path d="M370.5 500.6V510.5H479.9" stroke="url(#g80)"/><path d="M404.5 493.4V485.5H448.5" stroke="url(#g81)"/><path d="M404.5 491.6V500.5H490.9" stroke="url(#g82)"/><path d="M448.5 486.4V480.5H491.9" stroke="url(#g83)"/><path d="M448.5 484.6V490.5H487.9" stroke="url(#g84)"/><path d="M380.5 526.4V520.5H415.9" stroke="url(#g85)"/><path d="M380.5 524.6V530.5H455.9" stroke="url(#g86)"/><path d="M100.5 614.4V570.5H161.5" stroke="url(#g87)"/><path d="M100.5 612.6V657.5H166.5" stroke="url(#g88)"/><path d="M161.5 571.4V540.5H381.9" stroke="url(#g89)"/><path d="M161.5 569.6V600.5H243.5" stroke="url(#g90)"/><path d="M243.5 601.4V584.5H294.5" stroke="url(#g91)"/><path d="M243.5 599.6V615.5H419.5" stroke="url(#g92)"/><path d="M294.5 585.4V569.5H324.5" stroke="url(#g93)"/><path d="M294.5 583.6V600.5H398.9" stroke="url(#g94)"/><path d="M324.5 570.4V555.5H343.5" stroke="url(#g95)"/><path d="M324.5 568.6V582.5H351.5" stroke="url(#g96)"/><path d="M343.5 556.4V550.5H433.9" stroke="url(#g97)"/><path d="M343.5 554.6V560.5H447.9" stroke="url(#g98)"/><path d="M351.5 583.4V575.5H351.5" stroke="url(#g99)"/><path d="M351.5 581.6V590.5H405.9" stroke="url(#g100)"/><path d="M351.5 576.4V570.5H374.9" stroke="url(#g101)"/><path d="M351.5 574.6V580.5H401.9" stroke="url(#g102)"/><path d="M419.5 616.4V610.5H439.9" stroke="url(#g103)"/><path d="M419.5 614.6V620.5H437.9" stroke="url(#g104)"/><path d="M166.5 658.4V635.5H465.5" stroke="url(#g105)"/><path d="M166.5 656.6V679.5H350.5" stroke="url(#g106)"/><path d="M465.5 636.4V630.5H579.9" stroke="url(#g107)"/><path d="M465.5 634.6V640.5H566.9" stroke="url(#g108)"/><path d="M350.5 680.4V669.5H400.5" stroke="url(#g109)"/><path d="M350.5 678.6V690.5H427.9" stroke="url(#g110)"/><path d="M400.5 670.4V657.5H422.5" stroke="url(#g111)"/><path d="M400.5 668.6V680.5H515.9" stroke="url(#g112)"/><path d="M422.5 658.4V650.5H513.9" stroke="url(#g113)"/><path d="M422.5 656.6V665.5H456.5" stroke="url(#g114)"/><path d="M456.5 666.4V660.5H465.9" stroke="url(#g115)"/><path d="M456.5 664.6V670.5H471.9" stroke="url(#g116)"/></g>
<g font-family="Liberation Sans, sans-serif" font-style="italic" font-size="14.25" fill="#000"><text x="459.5" y="405.9">Nicotiana wigandioides</text><text x="515.3" y="414.6">Nicotiana undulata</text><text x="527.1" y="425.1">Nicotiana solanifolia</text><text x="533.6" y="435.0">Nicotiana cordifolia</text><text x="518.1" y="445.4">Nicotiana knightiana</text><text x="515.9" y="455.3">Nicotiana paniculata</text><text x="481.5" y="465.9">Nicotiana benavidesii</text><text x="487.6" y="475.7">Nicotiana raimondii</text><text x="498.4" y="485.8">Nicotiana tomentosiformis</text><text x="494.1" y="495.6">Nicotiana kawakamii</text><text x="497.0" y="506.1">Nicotiana setchellii</text><text x="485.7" y="515.9">Nicotiana otophora</text><text x="422.4" y="525.8">Nicotiana obtusifolia var obtusifolia</text><text x="461.7" y="535.7">Nicotiana obtusifolia var palmeri</text><text x="387.7" y="545.7">Nicotiana sylvestris</text><text x="440.2" y="555.7">Nicotiana alata</text><text x="454.0" y="565.7">Nicotiana mutabilis</text><text x="380.9" y="575.7">Nicotiana‘rastroensis’</text><text x="408.3" y="585.7">Nicotiana bonariensis</text><text x="411.7" y="595.7">Nicotiana forgetiana</text><text x="405.5" y="605.7">Nicotiana langsdorffii</text><text x="446.4" y="615.7">Nicotiana plumbaginifolia</text><text x="443.6" y="625.7">Nicotiana longiflora</text><text x="586.0" y="635.7">Nicotiana noctiflora</text><text x="572.7" y="645.7">Nicotiana petunioides</text><text x="519.6" y="655.7">Nicotiana corymbosa</text><text x="472.1" y="665.7">Nicotiana pauciflora</text><text x="477.8" y="675.7">Nicotiana acuminata</text><text x="522.2" y="685.7">Nicotiana miersii</text><text x="434.1" y="695.7">Nicotiana attenuata</text></g>
<rect x="393.5" y="403.3" width="4.8" height="12.0" fill="#ee72ee"/><rect x="471.6" y="474.5" width="4.8" height="12.0" fill="#ee72ee"/><rect x="461.9" y="484.3" width="4.8" height="12.0" fill="#ee72ee"/><rect x="252.0" y="495.6" width="4.8" height="12.0" fill="#ee72ee"/><rect x="424.7" y="504.6" width="4.8" height="12.0" fill="#ee72ee"/><rect x="230.5" y="519.4" width="4.8" height="12.0" fill="#ee72ee"/><rect x="385.0" y="544.4" width="4.8" height="12.0" fill="#ee72ee"/><rect x="372.5" y="574.4" width="4.8" height="12.0" fill="#ee72ee"/><rect x="382.4" y="584.4" width="4.8" height="12.0" fill="#ee72ee"/><rect x="335.0" y="609.4" width="4.8" height="12.0" fill="#ee72ee"/><rect x="467.0" y="644.4" width="4.8" height="12.0" fill="#ee72ee"/><rect x="435.8" y="659.4" width="4.8" height="12.0" fill="#ee72ee"/><rect x="453.2" y="674.4" width="4.8" height="12.0" fill="#ee72ee"/>
<g fill="none" stroke="#000" stroke-width="1" stroke-linecap="square"><path d="M28.5 935.5V875.5H76.5"/><path d="M28.5 935.5V995.5H108.5"/><path d="M76.5 875.5V844.5H143.5"/><path d="M76.5 875.5V906.5H391.5"/><path d="M143.5 844.5V807.5H225.5"/><path d="M143.5 844.5V882.5H382.5"/><path d="M225.5 807.5V784.5H288.5"/><path d="M225.5 807.5V830.5H377.5"/><path d="M288.5 784.5V780.5H465.0"/><path d="M288.5 784.5V789.5H520.0"/><path d="M377.5 830.5V815.5H409.5"/><path d="M377.5 830.5V845.5H439.5"/><path d="M409.5 815.5V805.5H453.5"/><path d="M409.5 815.5V825.5H483.5"/><path d="M453.5 805.5V800.5H533.0"/><path d="M453.5 805.5V809.5H540.0"/><path d="M483.5 825.5V820.5H525.0"/><path d="M483.5 825.5V830.5H522.0"/><path d="M439.5 845.5V840.5H486.0"/><path d="M439.5 845.5V851.5H494.0"/><path d="M382.5 882.5V873.5H417.5"/><path d="M382.5 882.5V891.5H492.0"/><path d="M417.5 873.5V865.5H461.5"/><path d="M417.5 873.5V880.5H502.0"/><path d="M461.5 865.5V860.5H504.0"/><path d="M461.5 865.5V870.5H500.0"/><path d="M391.5 906.5V901.5H425.0"/><path d="M391.5 906.5V910.5H468.0"/><path d="M108.5 995.5V951.5H171.5"/><path d="M108.5 995.5V1039.5H175.5"/><path d="M171.5 951.5V921.5H391.0"/><path d="M171.5 951.5V981.5H252.5"/><path d="M252.5 981.5V966.5H303.5"/><path d="M252.5 981.5V996.5H432.5"/><path d="M303.5 966.5V950.5H336.5"/><path d="M303.5 966.5V981.5H411.0"/><path d="M336.5 950.5V936.5H356.5"/><path d="M336.5 950.5V964.5H363.5"/><path d="M356.5 936.5V931.5H443.0"/><path d="M356.5 936.5V941.5H458.0"/><path d="M363.5 964.5V956.5H363.5"/><path d="M363.5 964.5V971.5H417.0"/><path d="M363.5 956.5V951.5H386.0"/><path d="M363.5 956.5V961.5H413.0"/><path d="M432.5 996.5V992.5H450.0"/><path d="M432.5 996.5V1002.5H450.0"/><path d="M175.5 1039.5V1017.5H479.5"/><path d="M175.5 1039.5V1061.5H363.5"/><path d="M479.5 1017.5V1012.5H593.0"/><path d="M479.5 1017.5V1022.5H580.0"/><path d="M363.5 1061.5V1051.5H413.5"/><path d="M363.5 1061.5V1073.5H439.0"/><path d="M413.5 1051.5V1039.5H435.5"/><path d="M413.5 1051.5V1062.5H529.0"/><path d="M435.5 1039.5V1032.5H526.0"/><path d="M435.5 1039.5V1047.5H469.5"/><path d="M469.5 1047.5V1042.5H478.0"/><path d="M469.5 1047.5V1052.5H484.0"/></g>
<g font-family="Liberation Sans, sans-serif" font-style="italic" font-size="12.90" fill="#000"><text x="465.1" y="785.4">Nicotiana wigandioides</text><text x="520.7" y="794.4">Nicotiana undulata</text><text x="533.3" y="805.2">Nicotiana solanifolia</text><text x="540.3" y="813.7">Nicotiana cordifolia</text><text x="524.9" y="824.7">Nicotiana knightiana</text><text x="522.1" y="834.7">Nicotiana paniculata</text><text x="486.8" y="845.2">Nicotiana benavidesii</text><text x="493.9" y="855.7">Nicotiana raimondii</text><text x="504.6" y="865.4">Nicotiana tomentosiformis</text><text x="500.1" y="875.1">Nicotiana kawakamii</text><text x="501.8" y="885.4">Nicotiana setchellii</text><text x="491.9" y="896.1">Nicotiana otophora</text><text x="425.3" y="905.7">Nicotiana obtusifolia var obtusifolia</text><text x="468.5" y="914.9">Nicotiana obtusifolia var palmeri</text><text x="391.1" y="926.0">Nicotiana sylvestris</text><text x="443.3" y="936.3">Nicotiana alata</text><text x="457.9" y="946.4">Nicotiana mutabilis</text><text x="385.9" y="955.9">Nicotiana‘rastroensis’</text><text x="412.9" y="966.1">Nicotiana bonariensis</text><text x="417.5" y="975.9">Nicotiana forgetiana</text><text x="411.3" y="986.4">Nicotiana langsdorffii</text><text x="450.1" y="997.4">Nicotiana plumbaginifolia</text><text x="450.1" y="1007.4">Nicotiana longiflora</text><text x="593.6" y="1016.9">Nicotiana noctiflora</text><text x="580.0" y="1026.9">Nicotiana petunioides</text><text x="526.1" y="1037.2">Nicotiana corymbosa</text><text x="478.0" y="1046.7">Nicotiana pauciflora</text><text x="484.3" y="1056.8">Nicotiana acuminata</text><text x="529.3" y="1067.2">Nicotiana miersii</text><text x="439.3" y="1078.0">Nicotiana attenuata</text></g>
<rect x="372.7" y="774.8" width="4.8" height="11.8" fill="#111"/>
<rect x="402.9" y="783.8" width="4.8" height="11.8" fill="#1414e6"/>
<rect x="410.8" y="783.8" width="4.8" height="11.8" fill="#ee72ee"/>
<rect x="470.0" y="794.6" width="4.8" height="11.8" fill="#1414e6"/>
<rect x="478.5" y="794.6" width="4.8" height="11.8" fill="#111"/>
<rect x="487.5" y="803.1" width="4.8" height="11.8" fill="#1414e6"/>
<rect x="495.4" y="803.1" width="4.8" height="11.8" fill="#111"/>
<rect x="500.2" y="824.1" width="4.8" height="11.8" fill="#1414e6"/>
<rect x="459.6" y="834.6" width="4.8" height="11.8" fill="#111"/>
<rect x="297.0" y="824.4" width="4.8" height="11.8" fill="#1414e6"/>
<rect x="482.9" y="854.8" width="4.8" height="11.8" fill="#111"/>
<rect x="490.8" y="854.8" width="4.8" height="11.8" fill="#ee72ee"/>
<rect x="468.2" y="864.5" width="4.8" height="11.8" fill="#111"/>
<rect x="475.3" y="864.5" width="4.8" height="11.8" fill="#ee72ee"/>
<rect x="455.1" y="874.8" width="4.8" height="11.8" fill="#1414e6"/>
<rect x="434.8" y="885.5" width="4.8" height="11.8" fill="#1414e6"/>
<rect x="442.3" y="885.5" width="4.8" height="11.8" fill="#ee72ee"/>
<rect x="261.4" y="876.2" width="4.8" height="11.8" fill="#1414e6"/>
<rect x="268.0" y="876.2" width="4.8" height="11.8" fill="#ee72ee"/>
<rect x="231.8" y="900.1" width="4.8" height="11.8" fill="#1414e6"/>
<rect x="239.6" y="900.1" width="4.8" height="11.8" fill="#111"/>
<rect x="247.3" y="900.1" width="4.8" height="11.8" fill="#ee72ee"/>
<rect x="271.0" y="915.4" width="4.8" height="11.8" fill="#1414e6"/>
<rect x="278.0" y="915.4" width="4.8" height="11.8" fill="#111"/>
<rect x="383.0" y="925.7" width="4.8" height="11.8" fill="#1414e6"/>
<rect x="390.6" y="925.7" width="4.8" height="11.8" fill="#111"/>
<rect x="398.2" y="925.7" width="4.8" height="11.8" fill="#ee72ee"/>
<rect x="411.8" y="935.8" width="4.8" height="11.8" fill="#1414e6"/>
<rect x="419.7" y="935.8" width="4.8" height="11.8" fill="#111"/>
<rect x="365.9" y="945.3" width="4.8" height="11.8" fill="#1414e6"/>
<rect x="371.5" y="955.5" width="4.8" height="11.8" fill="#1414e6"/>
<rect x="379.4" y="955.5" width="4.8" height="11.8" fill="#111"/>
<rect x="387.2" y="955.5" width="4.8" height="11.8" fill="#ee72ee"/>
<rect x="394.0" y="965.3" width="4.8" height="11.8" fill="#1414e6"/>
<rect x="402.0" y="965.3" width="4.8" height="11.8" fill="#111"/>
<rect x="409.6" y="965.3" width="4.8" height="11.8" fill="#ee72ee"/>
<rect x="354.9" y="975.8" width="4.8" height="11.8" fill="#1414e6"/>
<rect x="363.0" y="975.8" width="4.8" height="11.8" fill="#111"/>
<rect x="345.2" y="958.2" width="4.8" height="11.8" fill="#111"/>
<rect x="337.1" y="991.1" width="4.8" height="11.8" fill="#1414e6"/>
<rect x="344.7" y="991.1" width="4.8" height="11.8" fill="#ee72ee"/>
<rect x="442.7" y="986.8" width="4.8" height="11.8" fill="#111"/>
<rect x="434.9" y="996.8" width="4.8" height="11.8" fill="#111"/>
<rect x="533.3" y="1006.3" width="4.8" height="11.8" fill="#1414e6"/>
<rect x="540.7" y="1006.3" width="4.8" height="11.8" fill="#111"/>
<rect x="515.0" y="1016.3" width="4.8" height="11.8" fill="#1414e6"/>
<rect x="522.7" y="1016.3" width="4.8" height="11.8" fill="#111"/>
<rect x="327.0" y="1011.2" width="4.8" height="11.8" fill="#1414e6"/>
<rect x="335.0" y="1011.2" width="4.8" height="11.8" fill="#111"/>
<rect x="468.0" y="1026.6" width="4.8" height="11.8" fill="#1414e6"/>
<rect x="475.5" y="1026.6" width="4.8" height="11.8" fill="#111"/>
<rect x="483.0" y="1026.6" width="4.8" height="11.8" fill="#ee72ee"/>
<rect x="445.8" y="1041.5" width="4.8" height="11.8" fill="#111"/>
<rect x="453.5" y="1041.5" width="4.8" height="11.8" fill="#ee72ee"/>
<rect x="470.0" y="1046.2" width="4.8" height="11.8" fill="#1414e6"/>
<rect x="478.0" y="1046.2" width="4.8" height="11.8" fill="#111"/>
<rect x="456.0" y="1056.6" width="4.8" height="11.8" fill="#111"/>
<rect x="463.2" y="1056.6" width="4.8" height="11.8" fill="#ee72ee"/>

<g font-family="Liberation Sans, sans-serif" fill="#000">
<text x="12.2" y="17" font-size="23" font-weight="bold">a</text>
<text x="50.2" y="21.2" font-size="18" textLength="95.8" lengthAdjust="spacingAndGlyphs">Tube length</text>
<text x="0" y="0" font-size="23" font-weight="bold" transform="translate(10.6 411) scale(1.25 1)">b</text>
<text x="50.8" y="414.6" font-size="18" textLength="91" lengthAdjust="spacingAndGlyphs">Tube width</text>
<text x="0" y="0" font-size="20.5" font-weight="bold" transform="translate(12.3 795.4) scale(1.18 1)">c</text>
<text x="49.2" y="797.8" font-size="18" textLength="69" lengthAdjust="spacingAndGlyphs">All shifts</text>
</g>
<defs><linearGradient id="cb0" x1="0" y1="0" x2="1" y2="0"><stop offset="0.000" stop-color="#f50707"/><stop offset="0.050" stop-color="#f53907"/><stop offset="0.100" stop-color="#f56b07"/><stop offset="0.150" stop-color="#f59d07"/><stop offset="0.200" stop-color="#f5cf07"/><stop offset="0.250" stop-color="#e9f507"/><stop offset="0.300" stop-color="#b7f507"/><stop offset="0.350" stop-color="#85f507"/><stop offset="0.400" stop-color="#53f507"/><stop offset="0.450" stop-color="#21f507"/><stop offset="0.500" stop-color="#07f51f"/><stop offset="0.550" stop-color="#07f551"/><stop offset="0.600" stop-color="#07f583"/><stop offset="0.650" stop-color="#07f5b5"/><stop offset="0.700" stop-color="#07f5e7"/><stop offset="0.750" stop-color="#07d1f5"/><stop offset="0.800" stop-color="#079ff5"/><stop offset="0.850" stop-color="#076df5"/><stop offset="0.900" stop-color="#073cf5"/><stop offset="0.950" stop-color="#070af5"/><stop offset="1.000" stop-color="#3707f5"/></linearGradient></defs><rect x="18.5" y="316.5" width="284" height="5.6" fill="url(#cb0)" stroke="#111" stroke-width="1.1"/><g font-family="Liberation Sans, sans-serif" fill="#111"><text x="22.3" y="309.2" font-size="13" text-anchor="middle">1.061</text><text x="300" y="309.2" font-size="13" text-anchor="middle">8.088</text><text x="160.7" y="309.2" font-size="14.5" stroke="#111" stroke-width="0.35" text-anchor="middle" textLength="79.6" lengthAdjust="spacingAndGlyphs">Tube length</text><text x="22.4" y="344.0" font-size="15.5" stroke="#111" stroke-width="0.25" text-anchor="middle">short</text><text x="300.7" y="344.0" font-size="15.5" stroke="#111" stroke-width="0.25" text-anchor="middle">long</text></g>
<defs><linearGradient id="cb394" x1="0" y1="0" x2="1" y2="0"><stop offset="0.000" stop-color="#f50707"/><stop offset="0.050" stop-color="#f53907"/><stop offset="0.100" stop-color="#f56b07"/><stop offset="0.150" stop-color="#f59d07"/><stop offset="0.200" stop-color="#f5cf07"/><stop offset="0.250" stop-color="#e9f507"/><stop offset="0.300" stop-color="#b7f507"/><stop offset="0.350" stop-color="#85f507"/><stop offset="0.400" stop-color="#53f507"/><stop offset="0.450" stop-color="#21f507"/><stop offset="0.500" stop-color="#07f51f"/><stop offset="0.550" stop-color="#07f551"/><stop offset="0.600" stop-color="#07f583"/><stop offset="0.650" stop-color="#07f5b5"/><stop offset="0.700" stop-color="#07f5e7"/><stop offset="0.750" stop-color="#07d1f5"/><stop offset="0.800" stop-color="#079ff5"/><stop offset="0.850" stop-color="#076df5"/><stop offset="0.900" stop-color="#073cf5"/><stop offset="0.950" stop-color="#070af5"/><stop offset="1.000" stop-color="#3707f5"/></linearGradient></defs><rect x="18.5" y="710.5" width="284" height="5.6" fill="url(#cb394)" stroke="#111" stroke-width="1.1"/><g font-family="Liberation Sans, sans-serif" fill="#111"><text x="22.3" y="703.2" font-size="13" text-anchor="middle">0.186</text><text x="300" y="703.2" font-size="13" text-anchor="middle">1.334</text><text x="160.7" y="703.2" font-size="14.5" stroke="#111" stroke-width="0.35" text-anchor="middle" textLength="76.7" lengthAdjust="spacingAndGlyphs">Tube width</text><text x="22.4" y="736.6" font-size="15.5" stroke="#111" stroke-width="0.25" text-anchor="middle">narrow</text><text x="300.7" y="736.6" font-size="15.5" stroke="#111" stroke-width="0.25" text-anchor="middle">wide</text></g>
</svg>
</body></html>
